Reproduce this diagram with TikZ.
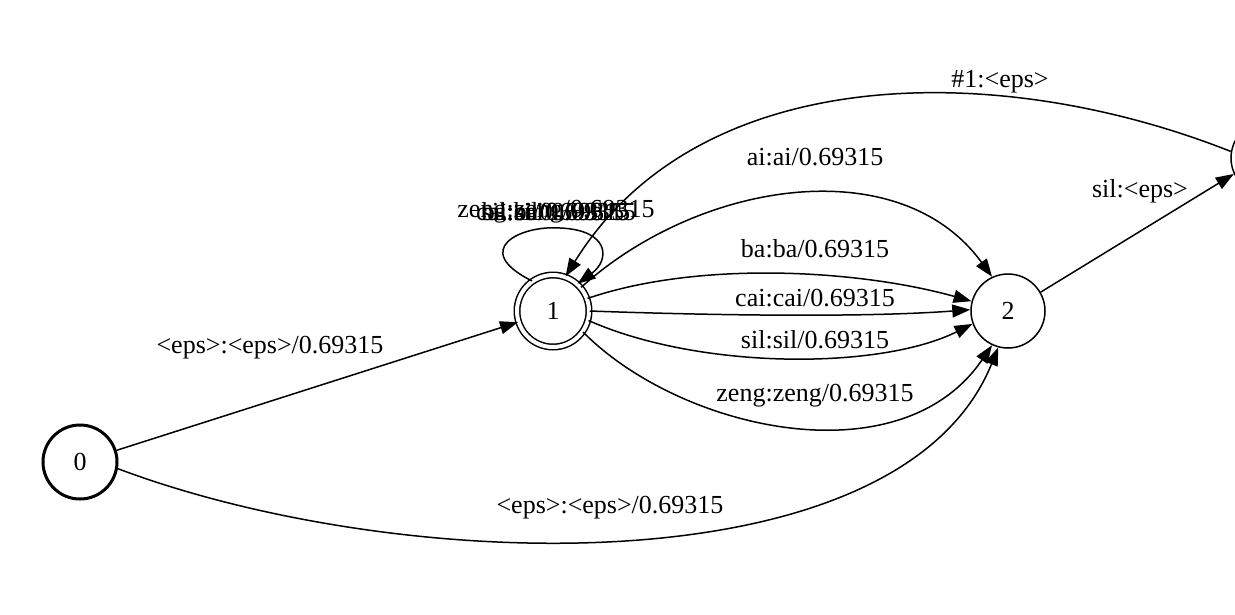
\documentclass[tikz,border=0pt]{standalone}
\usepackage{fontspec}
\setmainfont{Liberation Serif}
\usetikzlibrary{arrows.meta}
\begin{document}
\begin{tikzpicture}[x=1pt,y=-1pt,
 st/.style={circle,draw,minimum size=74pt,inner sep=0pt,font=\fontsize{26}{30}\selectfont},
 lb/.style={font=\fontsize{26}{30}\selectfont,inner sep=0pt},
 ar/.style={-{Triangle[length=18pt,width=13pt]},line width=1.5pt}]
\useasboundingbox (0,0) rectangle (1235,614);
\clip (0,0) rectangle (1235,614);
\node[st,line width=3pt] (n0) at (80,462) {0};
\node[st,double,double distance=4pt,minimum size=72pt,line width=1.5pt] (n1) at (553,311) {1};
\node[st,line width=1.5pt] (n2) at (1008,311) {2};
\node[st,line width=1.5pt] (n3) at (1268,158) {};
\draw[ar] (n0) -- (n1);
\node[lb] at (270,348) {<eps>:<eps>/0.69315};
\draw[ar] (n0.-10) .. controls (400,575) and (900,590) .. (n2.-105);
\node[lb] at (610,508) {<eps>:<eps>/0.69315};
\draw[ar] (n1.20) .. controls (700,260) and (860,270) .. (n2.165);
\node[lb] at (815,249) {ba:ba/0.69315};
\draw[ar] (n1.0) .. controls (700,315) and (860,318) .. (n2.178);
\node[lb] at (815,298) {cai:cai/0.69315};
\draw[ar] (n1.-15) .. controls (700,370) and (880,370) .. (n2.-160);
\node[lb] at (815,340) {sil:sil/0.69315};
\draw[ar] (n1.-35) .. controls (680,430) and (900,480) .. (n2.-115);
\node[lb] at (815,396) {zeng:zeng/0.69315};
\draw[ar] (n1.40) .. controls (700,180) and (900,150) .. (n2.115);
\node[lb] at (815,157) {ai:ai/0.69315};
\draw[ar] (n3.170) .. controls (1000,60) and (700,60) .. (n1.70);
\node[lb] at (1000,82) {\#1:<eps>};
\draw[ar] (n2.30) -- (n3.205);
\node[lb] at (1140,191) {sil:<eps>};
\draw[ar] (n1.125) .. controls (470,250) and (520,225) .. (560,228) .. controls (610,230) and (610,260) .. (n1.48);
\foreach \t in {ai:ai/0.69315,ba:ba/0.69315,cai:cai/0.69315,sil:sil/0.69315,zeng:zeng/0.69315}
  \node[lb] at (556,212) {\t};
\end{tikzpicture}
\end{document}
